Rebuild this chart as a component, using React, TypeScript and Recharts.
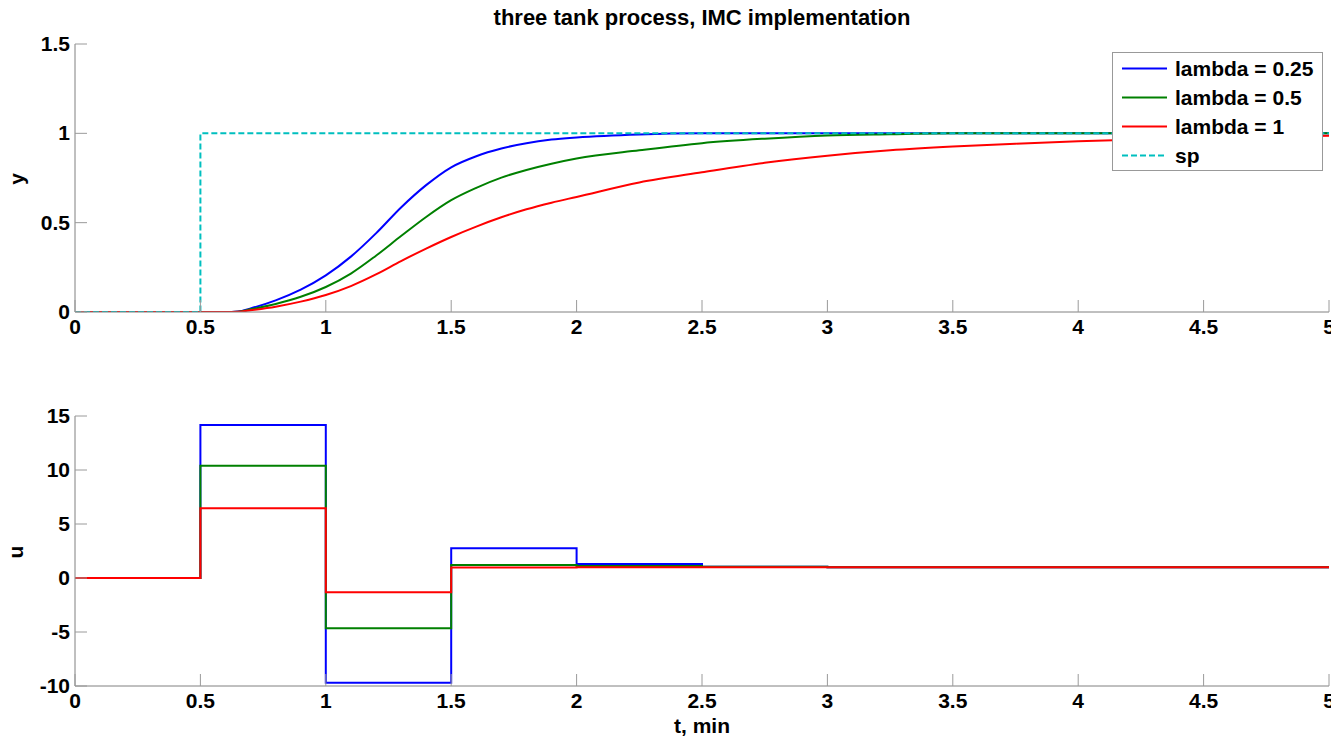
import React from 'react';
import { LineChart, Line, XAxis, YAxis, Legend } from 'recharts';

// ---- data ----
const tY = [0, 0.5, 0.6, 0.65, 0.7, 0.8, 0.9, 1.0, 1.1, 1.2, 1.3, 1.4, 1.5, 1.6, 1.7, 1.8, 1.9, 2.0, 2.25, 2.5, 2.75, 3.0, 3.25, 3.5, 3.75, 4.0, 4.25, 4.5, 4.75, 5.0];
const yLambda025 = [0, 0, 0, 0.003, 0.02, 0.065, 0.125, 0.205, 0.31, 0.44, 0.585, 0.71, 0.81, 0.872, 0.915, 0.945, 0.965, 0.977, 0.994, 1.0, 1.0, 1.0, 1.0, 1.0, 1.0, 1.0, 1.0, 1.0, 1.0, 1.0];
const yLambda05 = [0, 0, 0, 0.002, 0.015, 0.045, 0.085, 0.14, 0.215, 0.315, 0.425, 0.532, 0.626, 0.695, 0.752, 0.795, 0.83, 0.859, 0.905, 0.945, 0.97, 0.988, 0.995, 1.0, 1.0, 1.0, 1.0, 1.0, 1.0, 1.0];
const yLambda1 = [0, 0, 0, 0.001, 0.01, 0.03, 0.058, 0.095, 0.145, 0.21, 0.285, 0.355, 0.42, 0.478, 0.53, 0.575, 0.612, 0.644, 0.725, 0.782, 0.835, 0.875, 0.905, 0.926, 0.942, 0.955, 0.965, 0.974, 0.98, 0.986];

const tSp = [0, 0.5, 5];
const ySp = [0, 1, 1];

const tU = [0, 0.5, 1.0, 1.5, 2.0, 2.5, 3.0, 5.0];
const uLambda025 = [0, 14.17, -9.69, 2.75, 1.3, 1.05, 1.0, 1.0];
const uLambda05 = [0, 10.4, -4.66, 1.2, 1.12, 1.05, 1.0, 1.0];
const uLambda1 = [0, 6.45, -1.33, 0.97, 0.99, 1.0, 1.0, 1.0];

const xTicks = [0, 0.5, 1, 1.5, 2, 2.5, 3, 3.5, 4, 4.5, 5];
const yTicks = [0, 0.5, 1, 1.5];
const uTicks = [-10, -5, 0, 5, 10, 15];

const seriesNames = ['lambda = 0.25', 'lambda = 0.5', 'lambda = 1', 'sp'];
const seriesColors = ['#0000ff', '#008000', '#ff0000', '#00bfbf'];

const zip = (t: number[], v: number[]) => t.map((tt, i) => ({ t: tt, v: v[i] }));

const FONT = "'Liberation Sans', Arial, Helvetica, sans-serif";
const AXIS_C = '#808080';
const TICK_C = '#9a9a9a';
const TICK_LEN = 12;
const FS = 21;

const BottomTick = (props: any) => {
  const { x, y, payload } = props;
  return (
    <g>
      <line x1={x} x2={x} y1={y} y2={y - TICK_LEN} stroke={TICK_C} />
      <text x={x} y={y + 22} textAnchor="middle" fontSize={FS} fontWeight="bold" fontFamily={FONT} fill="#000">
        {String(payload.value)}
      </text>
    </g>
  );
};
const TopTick = (props: any) => {
  const { x, y } = props;
  return <line x1={x} x2={x} y1={y} y2={y + TICK_LEN} stroke={TICK_C} />;
};
const LeftTick = (props: any) => {
  const { x, y, payload } = props;
  return (
    <g>
      <line x1={x} x2={x + TICK_LEN} y1={y} y2={y} stroke={TICK_C} />
      <text x={x - 5} y={y + 7} textAnchor="end" fontSize={FS} fontWeight="bold" fontFamily={FONT} fill="#000">
        {String(payload.value)}
      </text>
    </g>
  );
};
const RightTick = (props: any) => {
  const { x, y } = props;
  return <line x1={x} x2={x - TICK_LEN} y1={y} y2={y} stroke={TICK_C} />;
};

const axisLine = { stroke: AXIS_C, strokeWidth: 1 };

const LegendBox = () => (
  <div
    style={{
      border: '1px solid #999',
      background: '#fff',
      width: 209,
      paddingTop: 1,
      paddingBottom: 0,
      fontFamily: FONT,
      fontWeight: 'bold',
      fontSize: FS,
      boxSizing: 'content-box',
    }}
  >
    {seriesNames.map((n, i) => (
      <div key={n} style={{ height: 29, display: 'flex', alignItems: 'center' }}>
        <svg width={62} height={29} style={{ display: 'block' }}>
          <line
            x1={9}
            x2={54}
            y1={14.5}
            y2={14.5}
            stroke={seriesColors[i]}
            strokeWidth={2}
            strokeDasharray={i === 3 ? '6 3' : undefined}
          />
        </svg>
        <span style={{ color: '#000', lineHeight: '29px' }}>{n}</span>
      </div>
    ))}
  </div>
);

export default function App() {
  return (
    <div style={{ position: 'absolute', left: 0, top: 0, width: 1331, height: 737, background: '#fff', overflow: 'hidden' }}>
      <div style={{ position: 'absolute', left: 0, top: 0 }}>
        <LineChart width={1331} height={340} margin={{ top: 44, right: 2, bottom: 0, left: 0 }}>
          <XAxis dataKey="t" type="number" domain={[0, 5]} ticks={xTicks} interval={0} height={28}
            tickSize={0} tickMargin={0} axisLine={axisLine} tickLine={false} tick={<BottomTick />} allowDataOverflow />
          <XAxis xAxisId="top" orientation="top" dataKey="t" type="number" domain={[0, 5]} ticks={xTicks} interval={0} height={0}
            tickSize={0} tickMargin={0} axisLine={axisLine} tickLine={false} tick={<TopTick />} allowDataOverflow />
          <YAxis type="number" domain={[0, 1.5]} ticks={yTicks} interval={0} width={75}
            tickSize={0} tickMargin={0} axisLine={axisLine} tickLine={false} tick={<LeftTick />} allowDataOverflow />
          <YAxis yAxisId="r" orientation="right" type="number" domain={[0, 1.5]} ticks={yTicks} interval={0} width={0}
            tickSize={0} tickMargin={0} axisLine={axisLine} tickLine={false} tick={<RightTick />} allowDataOverflow />
          <Line data={zip(tY, yLambda025)} dataKey="v" type="monotone" stroke={seriesColors[0]} strokeWidth={2} dot={false} isAnimationActive={false} />
          <Line data={zip(tY, yLambda05)} dataKey="v" type="monotone" stroke={seriesColors[1]} strokeWidth={2} dot={false} isAnimationActive={false} />
          <Line data={zip(tY, yLambda1)} dataKey="v" type="monotone" stroke={seriesColors[2]} strokeWidth={2} dot={false} isAnimationActive={false} />
          <Line data={zip(tSp, ySp)} dataKey="v" type="stepAfter" stroke={seriesColors[3]} strokeWidth={2} strokeDasharray="6 3" dot={false} isAnimationActive={false} />
          <Legend layout="vertical" align="center" verticalAlign="middle" content={<LegendBox />}
            wrapperStyle={{ position: 'absolute', left: 1112, top: 52, width: 211, height: 118, margin: 0, padding: 0 }} />
        </LineChart>
      </div>
      <div style={{ position: 'absolute', left: 0, top: 380 }}>
        <LineChart width={1331} height={357} margin={{ top: 36, right: 2, bottom: 0, left: 0 }}>
          <XAxis dataKey="t" type="number" domain={[0, 5]} ticks={xTicks} interval={0} height={51}
            tickSize={0} tickMargin={0} axisLine={axisLine} tickLine={false} tick={<BottomTick />} allowDataOverflow />
          <XAxis xAxisId="top" orientation="top" dataKey="t" type="number" domain={[0, 5]} ticks={xTicks} interval={0} height={0}
            tickSize={0} tickMargin={0} axisLine={axisLine} tickLine={false} tick={<TopTick />} allowDataOverflow />
          <YAxis type="number" domain={[-10, 15]} ticks={uTicks} interval={0} width={75}
            tickSize={0} tickMargin={0} axisLine={axisLine} tickLine={false} tick={<LeftTick />} allowDataOverflow />
          <YAxis yAxisId="r" orientation="right" type="number" domain={[-10, 15]} ticks={uTicks} interval={0} width={0}
            tickSize={0} tickMargin={0} axisLine={axisLine} tickLine={false} tick={<RightTick />} allowDataOverflow />
          <Line data={zip(tU, uLambda025)} dataKey="v" type="stepAfter" stroke={seriesColors[0]} strokeWidth={2} dot={false} isAnimationActive={false} />
          <Line data={zip(tU, uLambda05)} dataKey="v" type="stepAfter" stroke={seriesColors[1]} strokeWidth={2} dot={false} isAnimationActive={false} />
          <Line data={zip(tU, uLambda1)} dataKey="v" type="stepAfter" stroke={seriesColors[2]} strokeWidth={2} dot={false} isAnimationActive={false} />
        </LineChart>
      </div>
      <svg width={1331} height={737} style={{ position: 'absolute', left: 0, top: 0, pointerEvents: 'none' }}>
        <text x={702} y={25} textAnchor="middle" fontSize={22} fontWeight="bold" fontFamily={FONT} fill="#000">
          three tank process, IMC implementation
        </text>
        <text x={24} y={179} transform="rotate(-90 24 179)" textAnchor="middle" fontSize={FS} fontWeight="bold" fontFamily={FONT} fill="#000">y</text>
        <text x={23} y={552} transform="rotate(-90 23 552)" textAnchor="middle" fontSize={FS} fontWeight="bold" fontFamily={FONT} fill="#000">u</text>
        <text x={702} y={733} textAnchor="middle" fontSize={FS} fontWeight="bold" fontFamily={FONT} fill="#000">t, min</text>
      </svg>
    </div>
  );
}
